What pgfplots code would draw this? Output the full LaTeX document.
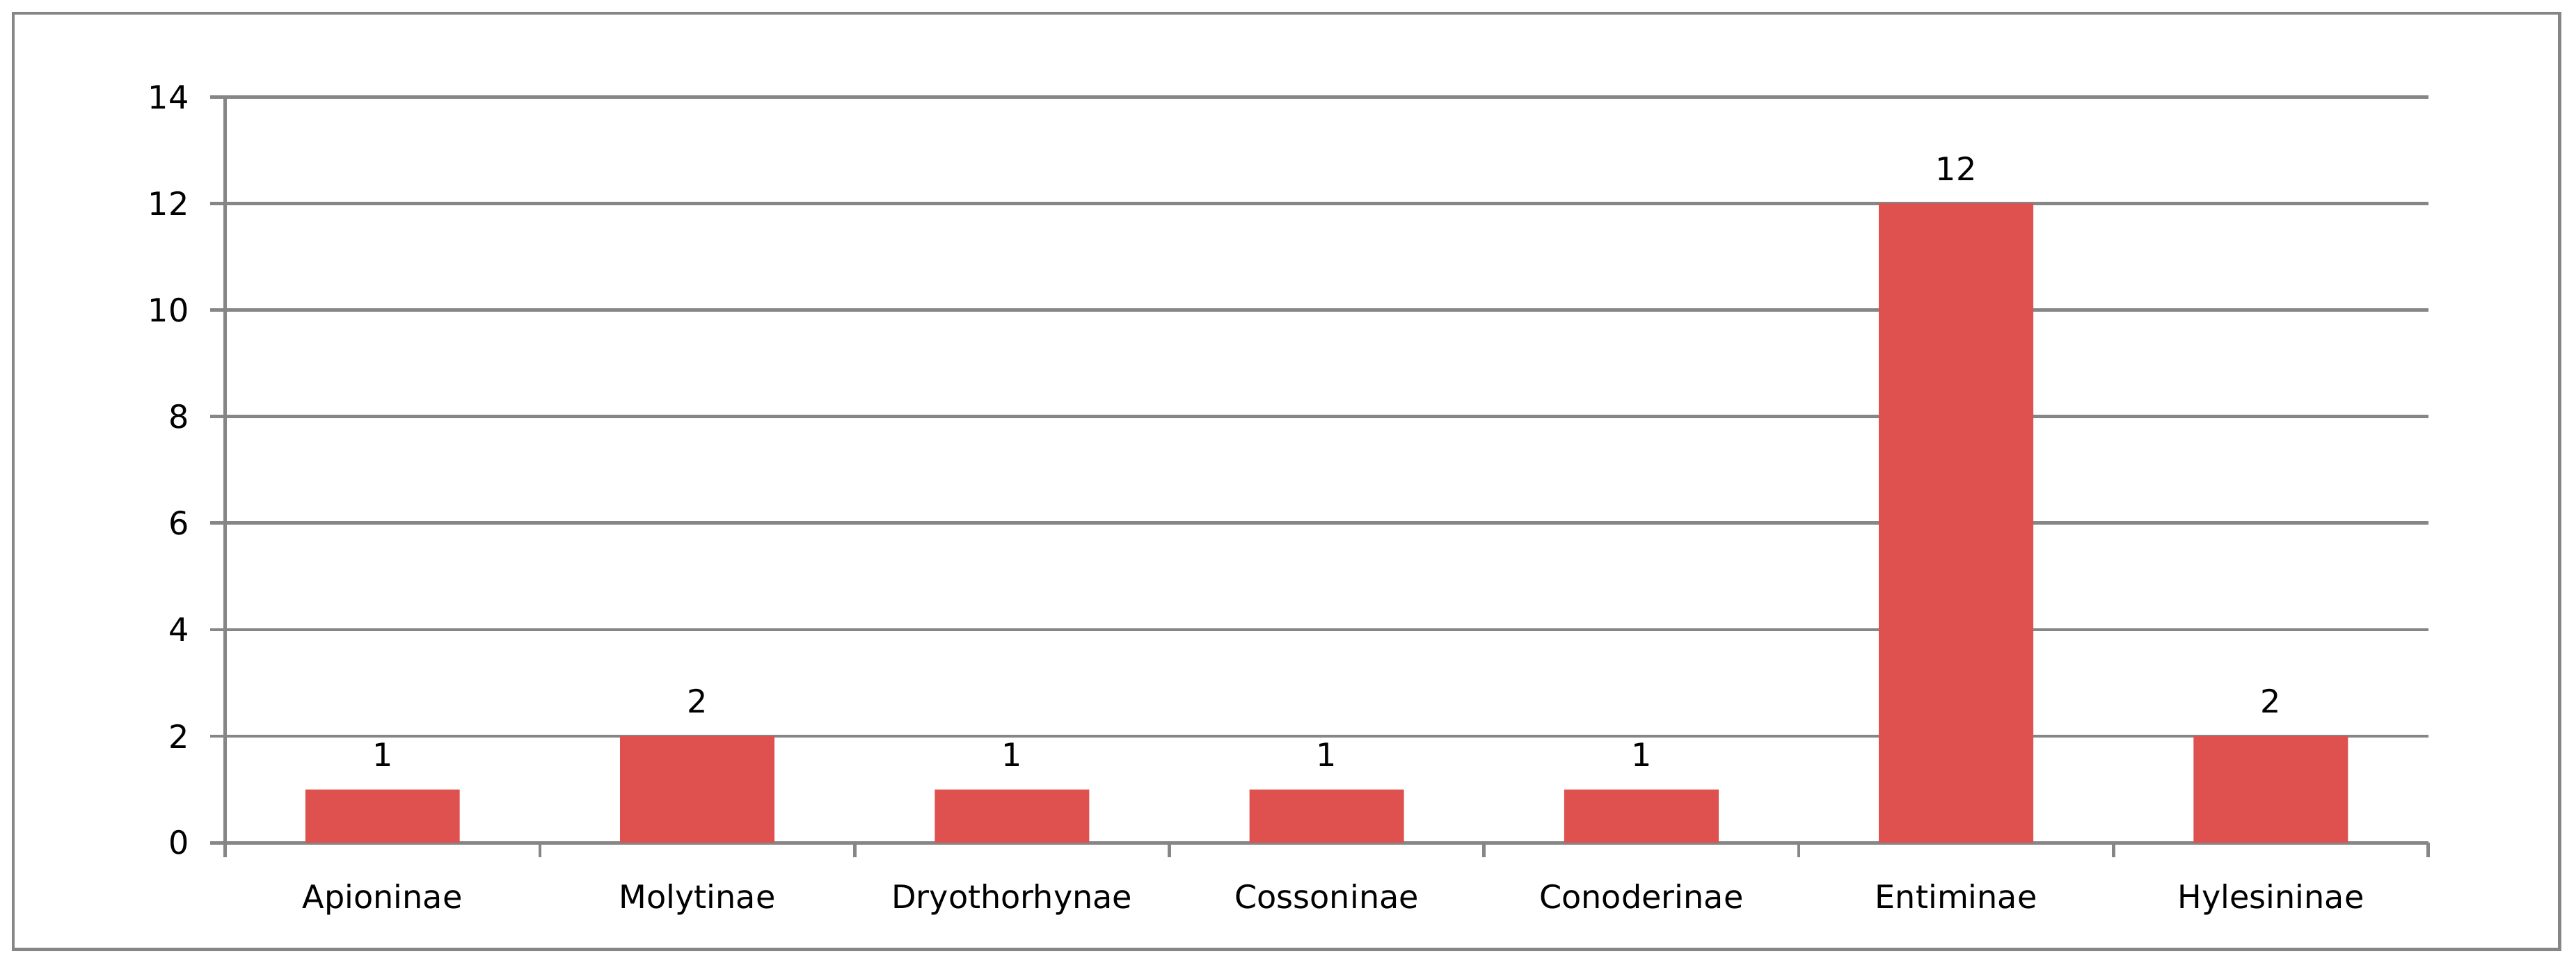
\documentclass[border=0pt]{standalone}
\usepackage{fontspec}
\setmainfont{DejaVu Sans}
\usepackage{pgfplots}
\pgfplotsset{compat=1.18}
\definecolor{barred}{RGB}{222,81,78}
\definecolor{gridgray}{RGB}{134,134,134}

\begin{document}
\begin{tikzpicture}
\begin{axis}[
  scale only axis, width=670.5bp, height=227bp,
  xmin=-0.5, xmax=6.5, ymin=0, ymax=14,
  ytick={0,2,...,14},
  xtick={-0.5,0.5,...,6.5}, xticklabels={},
  extra x ticks={0,...,6},
  extra x tick labels={Apioninae,Molytinae,Dryothorhynae,Cossoninae,Conoderinae,Entiminae,Hylesininae},
  extra x tick style={major tick length=0pt, grid=none},
  axis x line*=bottom, axis y line*=left,
  tick align=outside, major tick length=4.5bp,
  tick style={draw=gridgray, line width=1bp},
  axis line style={draw=gridgray, line width=1bp},
  ymajorgrids, grid style={draw=gridgray, line width=1bp},
  tick label style={font=\fontsize{9.8}{11}\selectfont},
  /pgf/number format/assume math mode=true,
  yticklabel style={xshift=-3bp},
  xticklabel style={yshift=-9bp},
  ybar, bar width=47bp,
  nodes near coords,
  every node near coord/.append style={font=\fontsize{9.8}{11}\selectfont, yshift=3.5bp},
  clip=false,
]
\addplot[fill=barred, draw=none] coordinates {(0,1) (1,2) (2,1) (3,1) (4,1) (5,12) (6,2)};
\coordinate (fsw) at (rel axis cs:-0.0962,-0.1432);
\coordinate (fne) at (rel axis cs:1.0597,1.1123);
\coordinate (bsw) at (rel axis cs:-0.1022,-0.1608);
\coordinate (bne) at (rel axis cs:1.0671,1.13);
\end{axis}
\draw[gridgray, line width=1bp] (fsw) rectangle (fne);
\pgfresetboundingbox
\useasboundingbox (bsw) rectangle (bne);
\end{tikzpicture}
\end{document}
